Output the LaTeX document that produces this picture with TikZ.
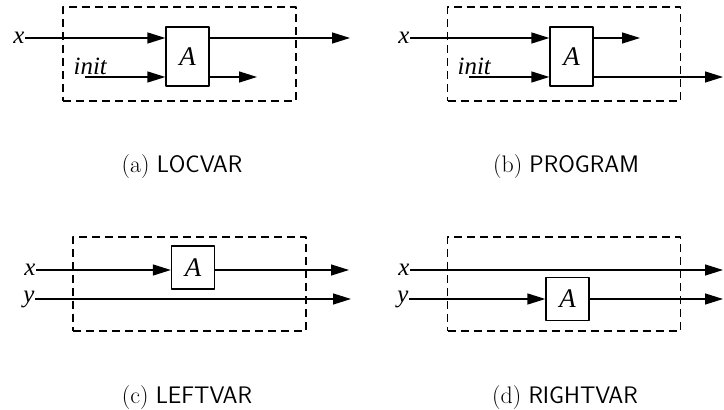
\documentclass[tikz,border=0pt]{standalone}
\usepackage{fontspec}
\newfontfamily\diagfont{Liberation Serif}
\usetikzlibrary{arrows.meta}
\usetikzlibrary{shapes}

\newcommand{\capname}[1]{{\sffamily\addfontfeatures{LetterSpace=4}#1}}

\begin{document}
\begin{tikzpicture}[>={Triangle[length=18bp,width=11bp]},line join=bevel,line width=1.3bp,
  every node/.style={inner sep=0pt},
  blockbox/.style={draw,rectangle,minimum width=43bp,minimum height=59bp,font=\diagfont\itshape\fontsize{27}{32}\selectfont},
  framebox/.style={draw,rectangle,dash pattern=on 8bp off 5bp,minimum width=233bp,minimum height=94bp},
  varlabel/.style={font=\diagfont\itshape\fontsize{25}{30}\selectfont},
  caption/.style={anchor=base,font=\fontsize{24}{29}\selectfont}]
\useasboundingbox (0bp,0bp) rectangle (724bp,410bp);
%%
%% (a) locvar
  \node (frameA) at (179.5bp,356bp) [framebox] {};
  \node (blockA) at (187.5bp,353.5bp) [blockbox] {A};
  \node (xA) at (25bp,372bp) [varlabel,anchor=east] {x};
  \node (initA) at (73bp,335bp) [varlabel,anchor=base west] {init};
  \coordinate (initA0) at (85bp,333bp);
  \coordinate (outA1) at (350bp,372bp);
  \coordinate (outA2) at (257bp,333bp);
  \draw [->] (xA.east) -- (blockA.west |- xA.east);
  \draw [->] (initA0) -- (blockA.west |- initA0);
  \draw [->] (blockA.east |- outA1) -- (outA1);
  \draw [->] (blockA.east |- outA2) -- (outA2);
  \node (capA) at (182bp,237bp) [caption] {(a) \capname{LOCVAR}};
%%
%% (b) program
  \node (frameB) at (564bp,356bp) [framebox] {};
  \node (blockB) at (571.5bp,353.5bp) [blockbox] {A};
  \node (xB) at (410bp,372bp) [varlabel,anchor=east] {x};
  \node (initB) at (457bp,335bp) [varlabel,anchor=base west] {init};
  \coordinate (initB0) at (469bp,333bp);
  \coordinate (outB1) at (640bp,372bp);
  \coordinate (outB2) at (723bp,333bp);
  \draw [->] (xB.east) -- (blockB.west |- xB.east);
  \draw [->] (initB0) -- (blockB.west |- initB0);
  \draw [->] (blockB.east |- outB1) -- (outB1);
  \draw [->] (blockB.east |- outB2) -- (outB2);
  \node (capB) at (566bp,237bp) [caption] {(b) \capname{PROGRAM}};
%%
%% (c) leftvar
  \node (frameC) at (189.5bp,126bp) [framebox] {};
  \node (blockC) at (193bp,142.5bp) [blockbox,minimum height=43bp] {A};
  \node (xC) at (36bp,140bp) [varlabel,anchor=east] {x};
  \node (yC) at (35bp,111bp) [varlabel,anchor=east] {y};
  \coordinate (outC1) at (349bp,140bp);
  \coordinate (outC2) at (351bp,111bp);
  \draw [->] (xC.east) -- (blockC.west |- xC.east);
  \draw [->] (blockC.east |- outC1) -- (outC1);
  \draw [->] (yC.east) -- (outC2);
  \node (capC) at (187bp,7bp) [caption] {(c) \capname{LEFTVAR}};
%%
%% (d) rightvar
  \node (frameD) at (564bp,126bp) [framebox] {};
  \node (blockD) at (567.5bp,111bp) [blockbox,minimum height=43bp] {A};
  \node (xD) at (410bp,140bp) [varlabel,anchor=east] {x};
  \node (yD) at (409bp,111bp) [varlabel,anchor=east] {y};
  \coordinate (outD1) at (723bp,140bp);
  \coordinate (outD2) at (723bp,111bp);
  \draw [->] (xD.east) -- (outD1);
  \draw [->] (yD.east) -- (blockD.west |- yD.east);
  \draw [->] (blockD.east |- outD2) -- (outD2);
  \node (capD) at (565bp,7bp) [caption] {(d) \capname{RIGHTVAR}};
%
\end{tikzpicture}
\end{document}
